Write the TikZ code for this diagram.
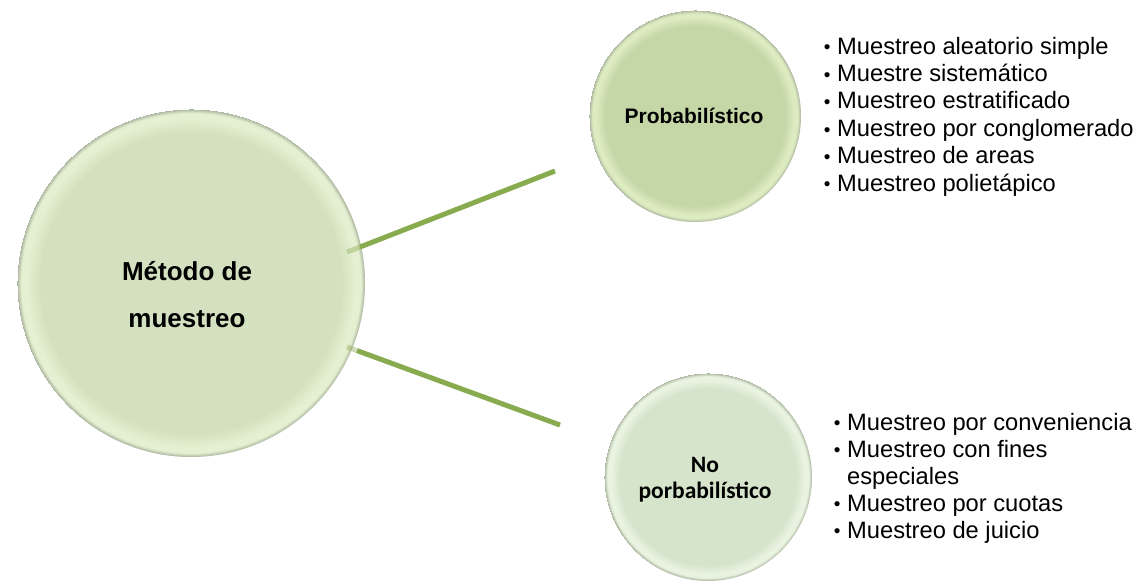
\documentclass[tikz,border=0pt]{standalone}
\usepackage{fontspec}
\setmainfont{Liberation Sans}
\newfontfamily\calibrifont{Carlito}

\definecolor{bigfill}{RGB}{212,225,192}
\definecolor{bigrim}{RGB}{229,239,209}
\definecolor{probfill}{RGB}{197,214,167}
\definecolor{probrim}{RGB}{221,235,192}
\definecolor{nopfill}{RGB}{214,228,204}
\definecolor{noprim}{RGB}{233,243,225}
\definecolor{edgegray}{RGB}{170,180,158}
\definecolor{linkgreen}{RGB}{137,171,79}

% flat centre, light bevel band, thin grey rim
\pgfdeclareradialshading{bigshade}{\pgfpoint{0bp}{0bp}}{%
  color(0bp)=(bigfill); color(21.6bp)=(bigfill); color(23.6bp)=(bigrim);
  color(24.4bp)=(bigrim); color(25bp)=(edgegray)}
\pgfdeclareradialshading{probshade}{\pgfpoint{0bp}{0bp}}{%
  color(0bp)=(probfill); color(21.2bp)=(probfill); color(23.4bp)=(probrim);
  color(24.2bp)=(probrim); color(25bp)=(edgegray)}
\pgfdeclareradialshading{nopshade}{\pgfpoint{0bp}{0bp}}{%
  color(0bp)=(nopfill); color(21.2bp)=(nopfill); color(23.4bp)=(noprim);
  color(24.2bp)=(noprim); color(25bp)=(edgegray)}

\newcommand{\itembullet}{\llap{\raisebox{0.2pt}{\fontsize{19}{19}\selectfont\textbullet}\hspace{6.6pt}}}

\tikzset{
  bubble/.style={circle, inner sep=0pt},
  bigtext/.style={anchor=base, inner sep=0pt, font=\bfseries\fontsize{26}{30}\selectfont},
  probtext/.style={anchor=base, inner sep=0pt, font=\bfseries\fontsize{21}{25}\selectfont},
  noptext/.style={anchor=base, inner sep=0pt, font=\calibrifont\bfseries\fontsize{23.5}{27}\selectfont},
  listline/.style={anchor=base west, inner sep=0pt, font=\fontsize{23.7}{27}\selectfont},
  link/.style={draw=linkgreen, line width=5pt},
  linkfaded/.style={draw=linkgreen, draw opacity=0.4, line width=5pt}
}

\begin{document}
\begin{tikzpicture}[x=1pt,y=-1pt]
\useasboundingbox (0,0) rectangle (1144,582);

% circles
\node[bubble, minimum size=348pt, shading=bigshade] (metodo) at (191,283) {};
\node[bubble, minimum size=212pt, shading=probshade] (prob) at (695,116) {};
\node[bubble, minimum size=208pt, shading=nopshade] (noprob) at (708,477) {};

% circle captions
\node[bigtext] (metodoA) at (187,280) {Método de};
\node[bigtext] (metodoB) at (187,327) {muestreo};
\node[probtext] (probA) at (694,123) {Probabilístico};
\node[noptext] (nopA) at (705,472) {No};
\node[noptext] (nopB) at (705,498) {porbabilístico};

% connectors leaving the central circle
\coordinate (pin1) at (347,252);
\coordinate (rim1) at (360,247);
\coordinate (end1) at (555,171);
\coordinate (pin2) at (347,347);
\coordinate (rim2) at (357,350.6);
\coordinate (end2) at (560,425);
\draw[linkfaded] (pin1) -- (rim1);
\draw[link] (rim1) -- (end1);
\draw[linkfaded] (pin2) -- (rim2);
\draw[link] (rim2) -- (end2);

% probabilistic methods
\foreach \txt [count=\i] in {Muestreo aleatorio simple, Muestre sistemático,
  Muestreo estratificado, Muestreo por conglomerado, Muestreo de areas,
  Muestreo polietápico}
  \node[listline] (pa\i) at (837,{54+27.4*(\i-1)}) {\itembullet\txt};

% non-probabilistic methods
\node[listline] (nb1) at (847,430) {\itembullet Muestreo por conveniencia};
\node[listline] (nb2) at (847,457) {\itembullet Muestreo con fines};
\node[listline] (nb3) at (847,484) {especiales};
\node[listline] (nb4) at (847,511) {\itembullet Muestreo por cuotas};
\node[listline] (nb5) at (847,538) {\itembullet Muestreo de juicio};
\end{tikzpicture}
\end{document}
